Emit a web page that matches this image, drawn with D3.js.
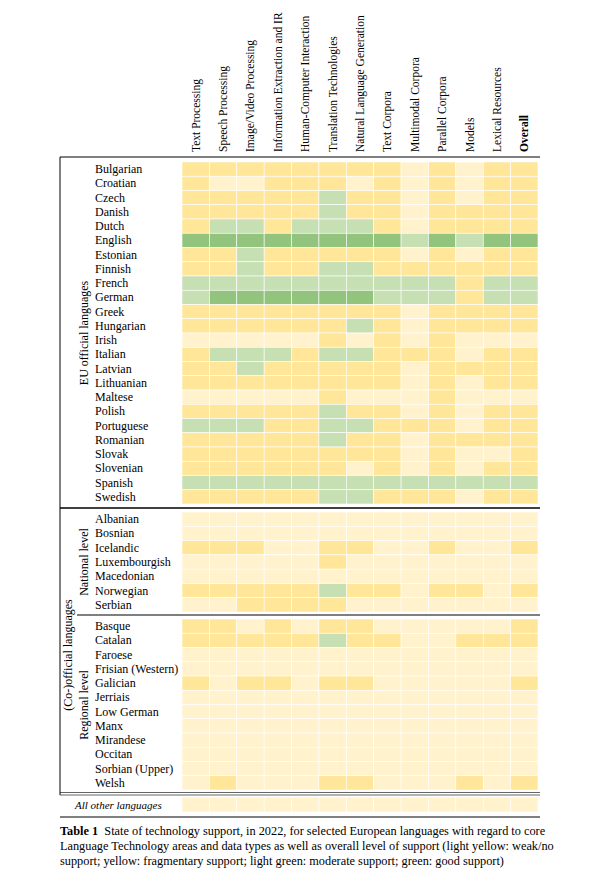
<!DOCTYPE html>
<html><head><meta charset="utf-8">
<script src="https://cdn.jsdelivr.net/npm/d3@7"></script>
<style>body{margin:0;background:#fff;font-family:"Liberation Serif","Times New Roman",serif;}</style>
</head><body>
<svg id="chart" width="596" height="889"></svg>
<script>
// columns
let columns = ["Text Processing","Speech Processing","Image/Video Processing","Information Extraction and IR","Human-Computer Interaction","Translation Technologies","Natural Language Generation","Text Corpora","Multimodal Corpora","Parallel Corpora","Models","Lexical Resources","Overall"];

// 0 weak/no, 1 fragmentary, 2 moderate, 3 good
let euLangs = ["Bulgarian","Croatian","Czech","Danish","Dutch","English","Estonian","Finnish","French","German","Greek","Hungarian","Irish","Italian","Latvian","Lithuanian","Maltese","Polish","Portuguese","Romanian","Slovak","Slovenian","Spanish","Swedish"];
let euValues = [
 [1,1,1,1,1,1,1,1,0,1,0,1,1],
 [1,0,0,1,1,1,0,1,0,1,0,1,1],
 [1,1,1,1,1,2,1,1,0,1,0,1,1],
 [1,1,1,1,1,2,1,1,0,1,1,1,1],
 [1,2,2,1,2,2,2,1,0,1,1,1,1],
 [3,3,3,3,3,3,3,3,2,3,2,3,3],
 [1,1,2,1,1,1,1,1,0,1,0,1,1],
 [1,1,2,1,1,2,2,1,1,1,1,1,1],
 [2,2,2,2,2,2,2,2,2,2,1,2,2],
 [2,3,3,3,3,3,3,2,2,2,1,2,2],
 [1,1,1,1,1,1,1,1,0,1,1,1,1],
 [1,1,1,1,1,1,2,1,0,1,1,1,1],
 [0,0,0,0,0,1,0,1,0,1,0,0,0],
 [1,2,2,2,1,2,2,1,1,1,0,1,1],
 [1,1,2,1,1,1,1,1,0,1,1,1,1],
 [1,1,1,1,1,1,1,1,0,1,0,1,1],
 [0,0,0,0,0,1,0,0,0,1,0,0,0],
 [1,1,1,1,1,2,1,1,0,1,0,1,1],
 [2,2,2,1,1,2,2,1,1,1,0,1,1],
 [1,1,1,1,1,2,1,1,0,1,1,1,1],
 [1,1,1,1,1,1,1,1,0,1,0,0,1],
 [1,1,1,1,1,1,0,1,0,1,0,1,1],
 [2,2,2,2,2,2,2,2,2,2,2,2,2],
 [1,1,1,1,1,2,2,1,1,1,0,1,1]
];
let natLangs = ["Albanian","Bosnian","Icelandic","Luxembourgish","Macedonian","Norwegian","Serbian"];
let natValues = [
 [0,0,0,0,0,0,0,0,0,0,0,0,0],
 [0,0,0,0,0,0,0,0,0,0,0,0,0],
 [1,1,1,0,0,1,1,0,0,1,0,0,1],
 [0,0,0,0,0,1,0,0,0,0,0,0,0],
 [0,0,0,0,0,0,0,0,0,0,0,0,0],
 [1,1,1,1,1,2,1,1,0,1,1,0,1],
 [0,0,1,1,1,1,0,0,0,0,0,0,0]
];
let regLangs = ["Basque","Catalan","Faroese","Frisian (Western)","Galician","Jerriais","Low German","Manx","Mirandese","Occitan","Sorbian (Upper)","Welsh"];
let regValues = [
 [1,1,0,1,0,1,1,0,0,0,0,0,1],
 [1,1,1,1,1,2,1,1,0,0,1,1,1],
 [0,0,0,0,0,0,0,0,0,0,0,0,0],
 [0,0,0,0,0,0,0,0,0,0,0,0,0],
 [1,0,1,1,0,1,1,0,0,0,0,0,1],
 [0,0,0,0,0,0,0,0,0,0,0,0,0],
 [0,0,0,0,0,0,0,0,0,0,0,0,0],
 [0,0,0,0,0,0,0,0,0,0,0,0,0],
 [0,0,0,0,0,0,0,0,0,0,0,0,0],
 [0,0,0,0,0,0,0,0,0,0,0,0,0],
 [0,0,0,0,0,0,0,0,0,0,0,0,0],
 [0,1,0,0,0,1,1,0,0,0,1,0,1]
];
let otherValues = [[0,0,0,0,0,0,0,0,0,0,0,0,0]];

let colors = ["#fff2cc","#ffe699","#c6e0b4","#93c47d"];

let svg = d3.select("#chart");
let x = d3.scaleBand().domain(columns).range([182, 538]);
let color = d3.scaleOrdinal().domain([0,1,2,3]).range(colors);

// column headers
svg.selectAll("text.col").data(columns).join("text")
  .attr("transform", d => `translate(${x(d) + x.bandwidth()/2 + 4},152) rotate(-90)`)
  .attr("font-size", 11.5).attr("font-weight", d => d == "Overall" ? "bold" : "normal")
  .text(d => d);

let line = (x1, x2, y, w, c) => svg.append("line").attr("x1", x1).attr("x2", x2).attr("y1", y).attr("y2", y)
  .attr("stroke", c || "#000").attr("stroke-width", w);

line(60, 540, 157, 1);

function block(langs, values, y0, y1, italic) {
  let y = d3.scaleBand().domain(langs).range([y0, y1]);
  let g = svg.append("g");
  langs.forEach((lang, i) => {
    g.selectAll(null).data(values[i]).join("rect")
      .attr("x", (d, j) => x(columns[j])).attr("y", y(lang))
      .attr("width", x.bandwidth()).attr("height", y.bandwidth())
      .attr("fill", d => color(d)).attr("stroke", "#fff").attr("stroke-width", 0.6);
    g.append("text").attr("x", italic ? 75 : 95).attr("y", y(lang) + y.bandwidth()/2 + 4)
      .attr("font-size", italic ? 11 : 12).attr("font-style", italic ? "italic" : "normal")
      .text(lang);
  });
}

block(euLangs, euValues, 162, 504);
block(natLangs, natValues, 512, 612);
block(regLangs, regValues, 619, 790);
block(["All other languages"], otherValues, 797, 812, true);

line(60, 540, 508, 1.5);
line(77, 540, 615, 1.2);
line(60, 540, 792.5, 1, "#666");
line(60, 540, 795, 1, "#666");
line(60, 540, 817, 1);
svg.append("line").attr("x1", 60).attr("x2", 60).attr("y1", 157).attr("y2", 795).attr("stroke", "#000").attr("stroke-width", 1);

let vlabel = (t, xx, yy) => svg.append("text").attr("transform", `translate(${xx},${yy}) rotate(-90)`)
  .attr("text-anchor", "middle").attr("font-size", 12).text(t);
vlabel("EU official languages", 88, 333);
vlabel("(Co-)official languages", 72, 655);
vlabel("National level", 88, 562);
vlabel("Regional level", 88, 705);

// caption
let caption = [
  [["Table 1", true], ["  State of technology support, in 2022, for selected European languages with regard to core", false]],
  [["Language Technology areas and data types as well as overall level of support (light yellow: weak/no", false]],
  [["support; yellow: fragmentary support; light green: moderate support; green: good support)", false]]
];
caption.forEach((parts, i) => {
  let t = svg.append("text").attr("x", 60).attr("y", 835 + i * 15).attr("font-size", 12.3);
  parts.forEach(p => t.append("tspan").attr("font-weight", p[1] ? "bold" : "normal").attr("xml:space", "preserve").text(p[0]));
});
</script>
</body></html>
